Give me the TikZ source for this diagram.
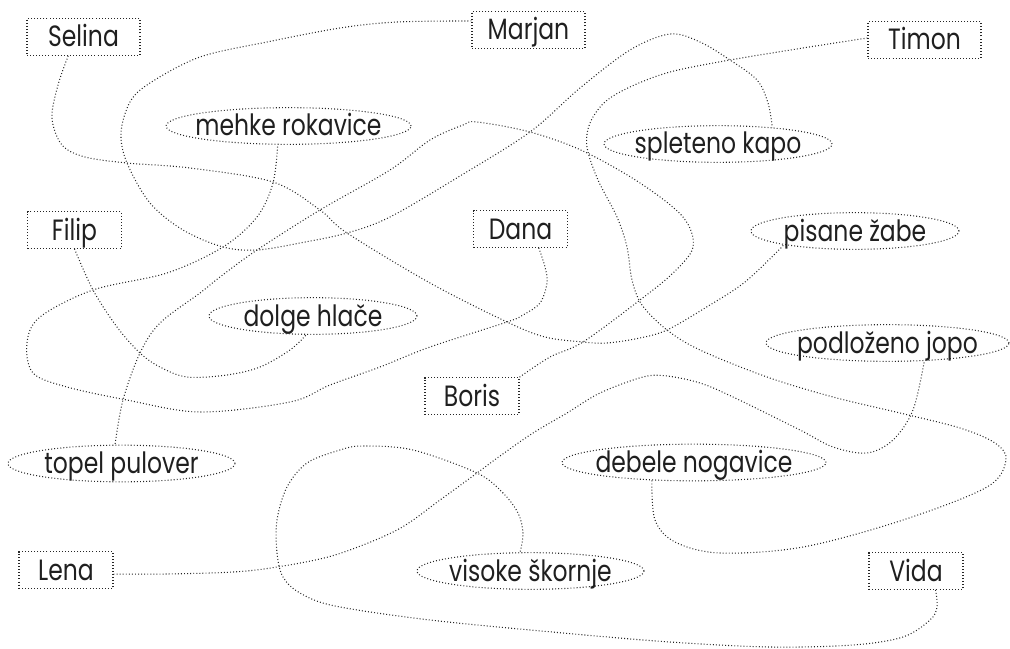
\documentclass[tikz,border=0pt]{standalone}
\usepackage{fontspec}
\setmainfont[FakeStretch=0.8]{Poppins}
\usetikzlibrary{shapes.geometric}
\newcommand\zw[1]{\makebox[0pt]{#1}}
\begin{document}
\begin{tikzpicture}[x=0.75pt,y=-0.75pt,
  dots/.style={draw=black!85, line width=0.8pt, dash pattern=on 0.7pt off 1.6pt},
  lbl/.style={font=\fontsize{22}{24}\selectfont, text=black!88, text height=15pt, text depth=0pt},
  nm/.style={dots, lbl, rectangle, inner sep=0pt, minimum height=27.5pt},
  nmw/.style={nm, minimum width=84.75pt},
  nmn/.style={nm, minimum width=70.5pt},
  it/.style={dots, lbl, ellipse, inner sep=0pt, minimum height=27.5pt},
  conn/.style={dots}]
\useasboundingbox (0,0) rectangle (1010,649);
% names
\node[nmw] (Selina) at (83.5,37) {Selina};
\node[nmw] (Marjan) at (528.5,30) {Marjan};
\node[nmw] (Timon) at (924.5,40) {Timon};
\node[nmn] (Filip) at (74.5,230) {Filip};
\node[nmn] (Dana) at (520.5,229) {Dana};
\node[nmn] (Boris) at (472,396) {Boris};
\node[nmn] (Lena) at (66,570) {Lena};
\node[nmn] (Vida) at (916,571) {Vida};
% items
\node[it, minimum width=183.75pt] (mehke) at (288.5,126) {\zw{mehke rokavice}};
\node[it, minimum width=171pt] (kapo) at (718,144) {\zw{spleteno kapo}};
\node[it, minimum width=156pt] (zabe) at (855,231) {\zw{pisane žabe}};
\node[it, minimum width=156pt] (hlace) at (313,316) {\zw{dolge hlače}};
\node[it, minimum width=182.25pt] (jopo) at (887.5,343) {\zw{podloženo jopo}};
\node[it, minimum width=170.25pt] (pulover) at (121.5,463.5) {\zw{topel pulover}};
\node[it, minimum width=198pt] (nogavice) at (694,462.5) {\zw{debele nogavice}};
\node[it, minimum width=170.25pt] (skornje) at (530.5,571) {\zw{visoke škornje}};
% connectors
\draw[conn] plot[smooth,tension=0.55] coordinates {(Selina.231) (58,85) (52,118) (62,145) (85,157) (127,163) (190,168) (273,182) (320,210) (347,233) (430,283) (507,322) (545,337) (583,342) (607,343) (640,338) (667,330) (705,308) (745,282) (zabe.191)};
\draw[conn] plot[smooth,tension=0.55] coordinates {(Marjan.171) (397,22) (340,28) (267,42) (200,57) (150,83) (130,102) (121,133) (127,163) (150,203) (183,230) (223,247) (257,250) (300,243) (347,233) (390,217) (460,176) (530,132) (580,88) (630,50) (670,34) (700,42) (730,60) (757,80) (768,103) (kapo.17)};
\draw[conn] plot[smooth,tension=0.55] coordinates {(Timon.178) (803,48) (730,60) (670,72) (630,87) (605,102) (590,123) (587,147) (598,180) (617,217) (627,247) (632,280) (642,305) (667,330) (700,350) (767,377) (833,397) (900,413) (960,428) (995,443) (1006,460) (987,487) (903,520) (803,547) (720,553) (675,542) (655,520) (nogavice.203)};
\draw[conn] plot[smooth,tension=0.55] coordinates {(Filip.south) (93,290) (117,327) (140,353) (160,367) (187,377) (227,375) (260,367) (290,350) (hlace.250)};
\draw[conn] plot[smooth,tension=0.55] coordinates {(Dana.314) (545,267) (547,283) (540,303) (523,315) (507,322) (430,347) (380,367) (330,385) (290,402) (200,412) (127,400) (67,387) (33,373) (27,343) (40,317) (93,290) (167,273) (223,247) (257,217) (273,183) (mehke.240)};
\draw[conn] plot[smooth,tension=0.55] coordinates {(Boris.north east) (550,357) (583,342) (640,300) (673,273) (693,247) (683,217) (640,183) (583,151) (530,132) (477,122) (463,125) (430,140) (390,170) (320,210) (257,250) (220,277) (200,293) (160,323) (140,353) (123,400) (pulover.109)};
\draw[conn] plot[smooth,tension=0.55] coordinates {(Lena.355) (167,574) (233,572) (277,567) (335,555) (397,530) (440,500) (477,473) (500,456) (533,433) (567,413) (600,393) (643,377) (667,376) (700,383) (733,397) (800,430) (833,447) (867,453) (893,440) (913,410) (jopo.334)};
\draw[conn] plot[smooth,tension=0.55] coordinates {(Vida.316) (937,607) (930,620) (903,637) (853,645) (770,647) (670,642) (563,633) (430,620) (335,606) (300,593) (283,577) (277,553) (277,520) (287,487) (307,463) (340,450) (363,446) (413,450) (477,473) (503,493) (518,513) (523,533) (skornje.119)};
\end{tikzpicture}
\end{document}
